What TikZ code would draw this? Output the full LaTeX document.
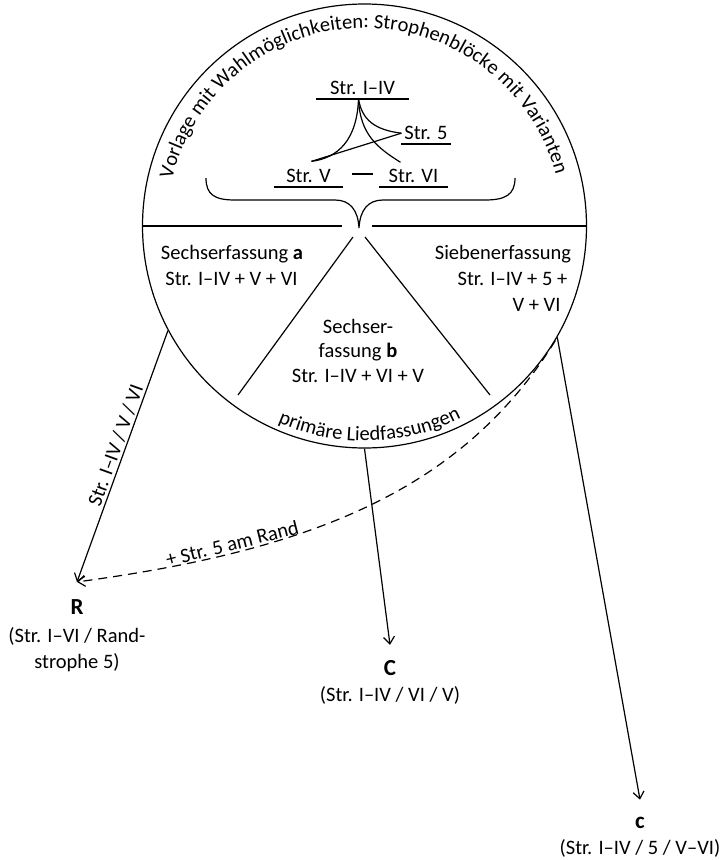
\documentclass[tikz,border=0pt]{standalone}
\usepackage{fontspec}
\setmainfont{Carlito}
\usetikzlibrary{positioning,arrows.meta,decorations.text}
\newcommand\bogen{\fontsize{20.5}{26}\selectfont}

\begin{document}
\begin{tikzpicture}[x=1pt,y=-1pt,>={Straight Barb[length=7pt,width=11pt]},line width=1.2pt,
	fass/.style={font=\bogen,inner sep=0pt,anchor=base},
	vers/.style={font=\bogen,anchor=south,inner xsep=0pt,inner ysep=3.5pt},
	sigle/.style={font=\fontsize{23}{26}\selectfont\bfseries,inner sep=0pt},
	quelle/.style={font=\bogen,align=center,inner sep=0pt},
	rand/.style={dash pattern=on 9pt off 6pt}]
			\useasboundingbox (0,0) rectangle (723,860);
			\node[draw,circle,minimum size=444pt,inner sep=0pt] (vorl) at (364.5,226) {};
			\draw (vorl.west) -- ++(200.5,0);
			\draw (vorl.east) -- ++(-215.5,0);
			\draw (353,237) -- (238,395);
			\draw (365,237) -- (490,395);
			% Klammer
			\draw (206,178) .. controls (206,195) and (215,200) .. (235,200) -- (335,200)
				.. controls (350,200) and (358,210) .. (359,228)
				.. controls (360,210) and (368,200) .. (383,200) -- (485,200)
				.. controls (505,200) and (515,195) .. (515,178);
			% Strophenbloecke
			\node[vers,minimum width=91pt] (s14) at (362.5,99) {Str. I–IV};
			\node[vers,minimum width=48pt] (s5) at (426,144) {Str. 5};
			\node[vers,minimum width=67pt] (sV) at (308.5,187) {Str. V};
			\node[vers,minimum width=67pt] (sVI) at (413.5,187) {Str. VI};
			\foreach \n in {s14,s5,sV,sVI}
			\draw (\n.south west) -- (\n.south east);
			\coordinate (apex) at ([xshift=-4pt]s14.south);
			\coordinate (gabelV) at ([shift={(3pt,4pt)}]sV.north);
			\coordinate (gabelVI) at ([shift={(-13pt,3pt)}]sVI.north);
			\draw (apex) .. controls (357,140) and (338,158) .. (gabelV);
			\draw (apex) .. controls (362,120) and (375,130) .. (s5.west);
			\draw (apex) .. controls (360,135) and (378,148) .. (gabelVI);
			\draw (gabelV) -- (s5.west);
			\draw (352,174) -- (373,174);
			% Bogentexte
			\path[decorate,decoration={text along path,text align=center,
				text={|\bogen|Vorlage mit Wahlmöglichkeiten: Strophenblöcke mit Varianten}}]
				(vorl.center) ++(175:198pt) arc[start angle=175,end angle=6.3,radius=198pt];
			\path[decorate,decoration={text along path,text align=center,
				text={|\bogen|primäre Liedfassungen}}]
				(vorl.center) ++(236.5:215pt) arc[start angle=236.5,end angle=306.5,radius=215pt];
			% Fassungen
			\foreach \xpos/\ypos/\zeile [count=\i] in {232/259/{Sechserfassung \textbf{a}},
				231.5/285/{Str. I–IV + V + VI}, 358/333/{Sechser-}, 358/357.5/{fassung \textbf{b}},
				358/382/{Str. I–IV + VI + V}, 503/259/Siebenerfassung, 512.5/285/{Str. I–IV + 5 +},
				536.5/311/{V + VI}}
			\node[fass] (zeile\i) at (\xpos,\ypos) {\zeile};
			% Handschriften
			\node[sigle] (R) at (77,607) {R};
			\node[quelle,below=12pt of R] (Rq) {(Str. I–VI / Rand-\\strophe 5)};
			\node[sigle] (C) at (390,668) {C};
			\node[quelle,below=10pt of C] (Cq) {(Str. I–IV / VI / V)};
			\node[sigle] (c) at (640,823) {c};
			\node[quelle,below=10pt of c] (cq) {(Str. I–IV / 5 / V–VI)};
			\coordinate[above=17pt of R] (Rtip);
			\coordinate[above=15pt of C] (Ctip);
			\coordinate[above=17pt of c] (ctip);
			\draw[->] (vorl.208.4) -- node[sloped,above,font=\bogen,inner sep=2pt,pos=0.47] {Str. I–IV / V / VI} (Rtip);
			\draw[->] (vorl.270) -- (Ctip);
			\draw[->] (vorl.330) -- (ctip);
			\draw[->,rand] (vorl.329) .. controls (460,494) and (305,551) .. node[sloped,above,font=\bogen,inner sep=2pt,pos=0.75] {+ Str. 5 am Rand} (Rtip);
			\end{tikzpicture}
\end{document}
